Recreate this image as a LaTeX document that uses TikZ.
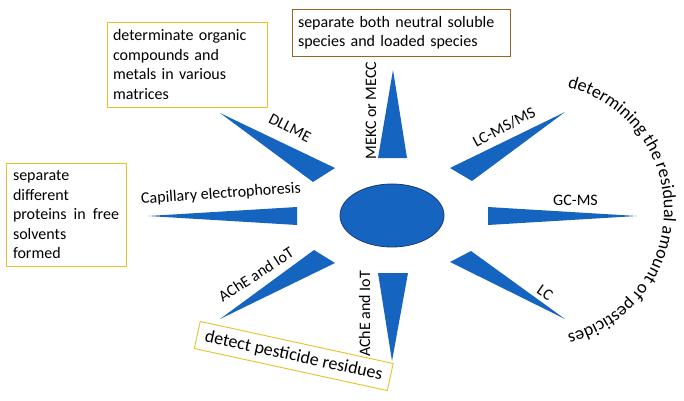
\documentclass[tikz,border=0pt]{standalone}
\usepackage{fontspec}
\setmainfont{Carlito}
\usetikzlibrary{decorations.text,shapes.geometric}
\definecolor{spikeblue}{RGB}{21,101,192}
\definecolor{edgeblue}{RGB}{30,60,110}
\definecolor{goldline}{RGB}{232,192,40}
\definecolor{brownline}{RGB}{150,100,35}
\tikzset{
  spike/.style={fill=spikeblue,draw=none},
  lbl/.style={font=\fontsize{16}{19}\selectfont,inner sep=0pt},
  infobox/.style={draw=goldline,line width=0.9pt,fill=white,font=\fontsize{16}{19.5}\selectfont,inner xsep=6pt,inner ysep=2pt,align=left},
}
\begin{document}
\begin{tikzpicture}[x=1pt,y=1pt]
\useasboundingbox (0,0) rectangle (684,400);
% centre
\node[ellipse,draw=edgeblue,line width=0.8pt,fill=spikeblue,minimum width=104pt,minimum height=63pt,inner sep=0pt] (c) at (392,184.5) {};
% spikes
\fill[spike] (220,287) -- (335,232) -- (313,218) -- cycle;
\fill[spike] (393,330) -- (378,242) -- (407,242) -- cycle;
\fill[spike] (148,184) -- (297,193) -- (297,175) -- cycle;
\fill[spike] (220,81) -- (314,150) -- (335,137) -- cycle;
\fill[spike] (392,39) -- (378,127) -- (408,127) -- cycle;
\fill[spike] (565,288) -- (450,232) -- (472,219) -- cycle;
\fill[spike] (637,184) -- (488,193) -- (488,175) -- cycle;
\fill[spike] (565,81) -- (450,138) -- (471,149) -- cycle;
% labels
\node[lbl,rotate=-27] (l1) at (290,272) {DLLME};
\node[lbl,rotate=90] (l2) at (371,289.5) {MEKC or MECC};
\node[lbl,rotate=4] (l3) at (221,206) {Capillary electrophoresis};
\node[lbl,rotate=33] (l4) at (256,125.5) {AChE and IoT};
\node[lbl,rotate=90] (l5) at (364.5,86) {AChE and IoT};
\node[lbl,rotate=28] (l6) at (504,273) {LC-MS/MS};
\node[lbl] (l7) at (575.5,200) {GC-MS};
\node[lbl,rotate=-35] (l8) at (545,107.5) {LC};
% boxes
\node[infobox,minimum width=160pt,minimum height=85pt,text width=148pt] (b1) at (187,335.5)
  {determinate organic\\compounds and\\metals in various\\matrices};
\node[infobox,draw=brownline,minimum width=218pt,minimum height=47pt,text width=206pt] (b2) at (401,367.5)
  {separate both neutral soluble\\species and loaded species};
\node[infobox,minimum width=120pt,minimum height=103pt,text width=106pt] (b3) at (66,185.5)
  {separate\\different\\proteins\hfill in\hfill free\\solvents\\formed};
\node[infobox,rotate=-12.3,minimum width=197.5pt,minimum height=27.7pt,align=center,font=\fontsize{18}{20}\selectfont,inner ysep=0pt] (b4) at (293.75,44)
  {detect pesticide residues};
% curved text
\coordinate (arcc) at (537,189.5);
\path[decorate,decoration={text along path,text align=center,
  text={|\fontsize{18}{20}\selectfont|determining the residual amount of pesticides}}]
  (arcc) ++(84:127) arc[start angle=84,end angle=-84,radius=127];
\end{tikzpicture}
\end{document}
